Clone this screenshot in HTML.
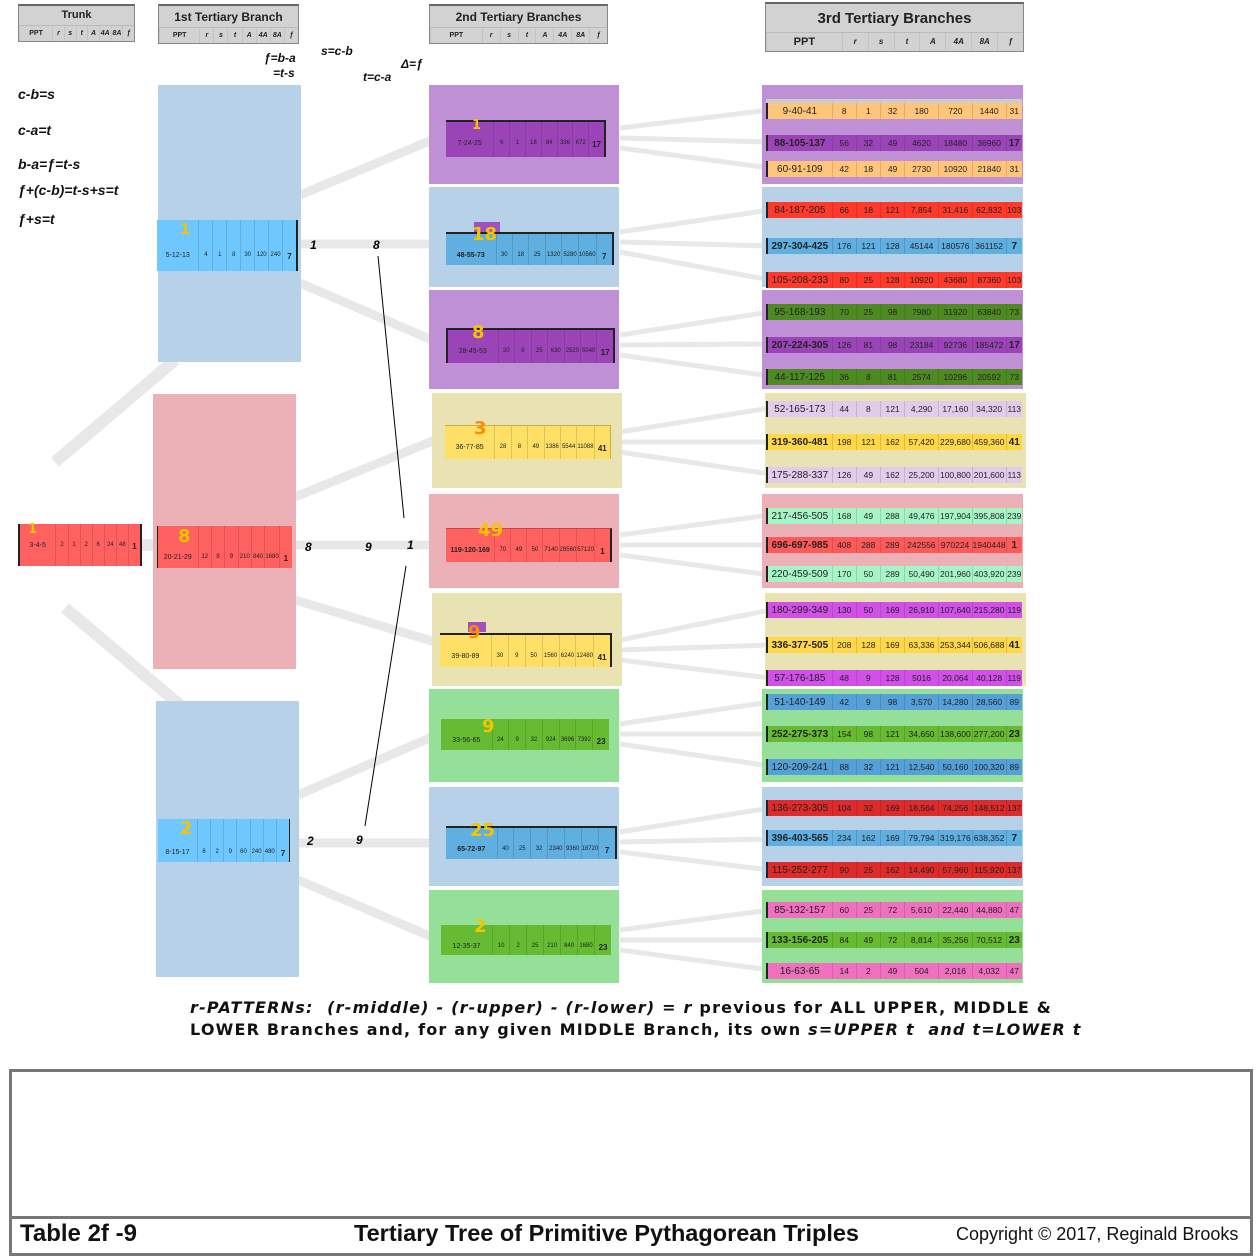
<!DOCTYPE html>
<html><head><meta charset="utf-8">
<style>
body{margin:0;width:1260px;height:1260px;background:#fff;position:relative;overflow:hidden;font-family:"Liberation Sans",sans-serif;}
.a{position:absolute;}
.hd{position:absolute;background:#d2d2d2;border:1px solid #888;border-top:2px solid #666;font-weight:bold;color:#222;}
.hd .t{text-align:center;}
.hd .s{display:flex;font-size:7px;font-style:italic;border-top:1px solid #bbb;}
.hd .s span{flex:1;text-align:center;border-left:1px solid #c4c4c4;}
.hd .s span:first-child{flex:3;font-style:normal;}
.r3{position:absolute;left:766px;width:256px;height:16px;display:flex;font-size:8.5px;line-height:17px;color:#222;}
.r3 span{text-align:center;border-left:1px solid rgba(0,0,0,.12);}
.r3 span:nth-child(1){width:66px;font-size:10px;border-left:2px solid #222}
.r3 span:nth-child(2),.r3 span:nth-child(3),.r3 span:nth-child(4){width:24px}
.r3 span:nth-child(5),.r3 span:nth-child(6),.r3 span:nth-child(7){width:34px}
.r3 span:nth-child(8){width:16px}
.b span:nth-child(1),.b span:nth-child(8){font-weight:bold}
.b span:nth-child(8){font-size:10px}
.r2{position:absolute;display:flex;font-size:6px;color:#222;border-top:2px solid #222;border-right:2px solid #222;}
.r2 span{text-align:center;border-left:1px solid rgba(0,0,0,.12);padding-top:18px;flex:1}
.r2 span:nth-child(1){flex:3.2;font-size:7px;border-left:none}
.r2 span:last-child{font-weight:bold;font-size:8px}
.p{position:absolute;}
.f{position:absolute;font-weight:bold;font-style:italic;font-size:14px;color:#111;}
.hw{position:absolute;color:#f5c400;font-weight:bold;font-size:18px;font-family:"DejaVu Sans",sans-serif;}
.lab{position:absolute;font-weight:bold;font-style:italic;font-size:12px;}
</style></head><body>

<svg class="a" style="left:0;top:0" width="1260" height="1000">
<g stroke="#e8e8e8" stroke-width="12" fill="none">
<line x1="55" y1="462" x2="175" y2="360"/>
<line x1="130" y1="545" x2="160" y2="545"/>
<line x1="65" y1="608" x2="180" y2="705"/>
</g>
<g stroke="#e8e8e8" stroke-width="9" fill="none">
<line x1="300" y1="195" x2="432" y2="140"/>
<line x1="300" y1="244" x2="432" y2="244"/>
<line x1="300" y1="283" x2="432" y2="340"/>
<line x1="295" y1="497" x2="435" y2="440"/>
<line x1="295" y1="545" x2="432" y2="545"/>
<line x1="295" y1="600" x2="435" y2="642"/>
<line x1="298" y1="795" x2="432" y2="737"/>
<line x1="298" y1="843" x2="432" y2="843"/>
<line x1="298" y1="880" x2="432" y2="937"/>
</g>
<g stroke="#e8e8e8" stroke-width="5" fill="none">
<path d="M620 128L770 110M620 138L770 142M620 148L770 168"/>
<path d="M620 232L770 210M620 242L770 246M620 252L770 280"/>
<path d="M620 335L770 312M620 345L770 344M620 355L770 376"/>
<path d="M620 432L770 408M620 442L770 442M620 452L770 474"/>
<path d="M620 535L770 515M620 545L770 545M620 555L770 575"/>
<path d="M620 640L770 610M620 650L770 645M620 660L770 678"/>
<path d="M620 724L770 702M620 734L770 734M620 744L770 766"/>
<path d="M620 832L770 808M620 842L770 839M620 852L770 870"/>
<path d="M620 930L770 910M620 940L770 940M620 950L770 970"/>
</g>
</svg>

<div class="hd" style="left:18px;top:4px;width:115px;height:35px"><div class="t" style="font-size:11px;height:19px;line-height:19px">Trunk</div><div class="s" style="height:15px;line-height:15px"><span>PPT</span><span>r</span><span>s</span><span>t</span><span>A</span><span>4A</span><span>8A</span><span>ƒ</span></div></div>
<div class="hd" style="left:158px;top:4px;width:139px;height:37px"><div class="t" style="font-size:12px;height:21px;line-height:22px">1st Tertiary Branch</div><div class="s" style="height:15px;line-height:15px"><span>PPT</span><span>r</span><span>s</span><span>t</span><span>A</span><span>4A</span><span>8A</span><span>ƒ</span></div></div>
<div class="hd" style="left:429px;top:4px;width:177px;height:37px"><div class="t" style="font-size:12px;height:21px;line-height:22px">2nd Tertiary Branches</div><div class="s" style="height:15px;line-height:15px"><span>PPT</span><span>r</span><span>s</span><span>t</span><span>A</span><span>4A</span><span>8A</span><span>ƒ</span></div></div>
<div class="hd" style="left:765px;top:2px;width:257px;height:47px"><div class="t" style="font-size:15px;height:28px;line-height:30px">3rd Tertiary Branches</div><div class="s" style="height:18px;line-height:18px;font-size:8px"><span style="font-size:11px">PPT</span><span>r</span><span>s</span><span>t</span><span>A</span><span>4A</span><span>8A</span><span>ƒ</span></div></div>

<div class="f" style="left:18px;top:86px">c-b=s</div>
<div class="f" style="left:18px;top:122px">c-a=t</div>
<div class="f" style="left:18px;top:156px">b-a=ƒ=t-s</div>
<div class="f" style="left:18px;top:182px">ƒ+(c-b)=t-s+s=t</div>
<div class="f" style="left:18px;top:211px">ƒ+s=t</div>
<div class="f" style="left:264px;top:51px;font-size:12px">ƒ=b-a</div>
<div class="f" style="left:273px;top:66px;font-size:12px">=t-s</div>
<div class="f" style="left:321px;top:44px;font-size:12px">s=c-b</div>
<div class="f" style="left:363px;top:70px;font-size:12px">t=c-a</div>
<div class="f" style="left:401px;top:57px;font-size:12px">Δ=ƒ</div>

<div class="p" style="left:158px;top:85px;width:143px;height:277px;background:#b6d1e8"></div>
<div class="p" style="left:153px;top:394px;width:143px;height:275px;background:#ecb1b7"></div>
<div class="p" style="left:156px;top:701px;width:143px;height:276px;background:#b6d1e8"></div>

<div class="r2" style="left:18px;top:524px;width:120px;height:42px;background:#ff6060;border-top:none;border-left:2px solid #222"><span>3-4-5</span><span>2</span><span>1</span><span>2</span><span>6</span><span>24</span><span>48</span><span>1</span></div>
<div class="r2" style="left:157px;top:220px;width:139px;height:51px;background:#6ec8ff;border-top:none"><span style="padding-top:32px">5-12-13</span><span style="padding-top:32px">4</span><span style="padding-top:32px">1</span><span style="padding-top:32px">8</span><span style="padding-top:32px">30</span><span style="padding-top:32px">120</span><span style="padding-top:32px">240</span><span style="padding-top:32px">7</span></div>
<div class="r2" style="left:157px;top:526px;width:134px;height:42px;background:#ff6060;border-top:none;border-right:none;border-left:1px solid #222"><span style="padding-top:28px">20-21-29</span><span style="padding-top:28px">12</span><span style="padding-top:28px">8</span><span style="padding-top:28px">9</span><span style="padding-top:28px">210</span><span style="padding-top:28px">840</span><span style="padding-top:28px">1680</span><span style="padding-top:28px">1</span></div>
<div class="r2" style="left:158px;top:819px;width:131px;height:43px;background:#6ec8ff;border-top:none;border-right:1px solid #222"><span style="padding-top:30px">8-15-17</span><span style="padding-top:30px">6</span><span style="padding-top:30px">2</span><span style="padding-top:30px">9</span><span style="padding-top:30px">60</span><span style="padding-top:30px">240</span><span style="padding-top:30px">480</span><span style="padding-top:30px">7</span></div>
<div class="hw" style="left:28px;top:522px;font-size:13px">1</div>
<div class="hw" style="left:180px;top:220px;font-size:15px">1</div>
<div class="hw" style="left:178px;top:526px">8</div>
<div class="hw" style="left:180px;top:818px">2</div>

<div class="p" style="left:429px;top:85px;width:190px;height:99px;background:#bf90d6"></div>
<div class="p" style="left:429px;top:187px;width:190px;height:100px;background:#b6d1e8"></div>
<div class="p" style="left:429px;top:290px;width:190px;height:99px;background:#bf90d6"></div>
<div class="p" style="left:432px;top:393px;width:190px;height:95px;background:#e9e3b4"></div>
<div class="p" style="left:429px;top:494px;width:190px;height:94px;background:#ecb1b7"></div>
<div class="p" style="left:432px;top:593px;width:190px;height:93px;background:#e9e3b4"></div>
<div class="p" style="left:429px;top:689px;width:190px;height:93px;background:#95e099"></div>
<div class="p" style="left:429px;top:787px;width:190px;height:99px;background:#b6d1e8"></div>
<div class="p" style="left:429px;top:890px;width:190px;height:93px;background:#95e099"></div>

<div class="r2" style="left:446px;top:120px;width:158px;height:35px;background:#9b44b8"><span>7-24-25</span><span>6</span><span>1</span><span>18</span><span>84</span><span>336</span><span>672</span><span>17</span></div>
<div class="r2" style="left:446px;top:232px;width:166px;height:31px;background:#5fafe0"><span style="font-weight:bold">48-55-73</span><span>30</span><span>18</span><span>25</span><span>1320</span><span>5280</span><span>10560</span><span>7</span></div>
<div class="r2" style="left:446px;top:328px;width:165px;height:33px;background:#9b44b8;border-left:2px solid #222"><span>28-45-53</span><span>20</span><span>8</span><span>25</span><span>630</span><span>2520</span><span>5040</span><span>17</span></div>
<div class="r2" style="left:445px;top:425px;width:165px;height:33px;background:#ffe066;border-top:1px solid #c8b040;border-right:1px solid #c8b040"><span>36-77-85</span><span>28</span><span>8</span><span>49</span><span>1386</span><span>5544</span><span>11088</span><span>41</span></div>
<div class="r2" style="left:446px;top:528px;width:164px;height:33px;background:#ff6060;border-top:1px solid #c44"><span style="font-weight:bold">119-120-169</span><span>70</span><span>49</span><span>50</span><span>7140</span><span>28560</span><span>57120</span><span>1</span></div>
<div class="r2" style="left:440px;top:633px;width:170px;height:32px;background:#ffe066"><span>39-80-89</span><span>30</span><span>9</span><span>50</span><span>1560</span><span>6240</span><span>12480</span><span>41</span></div>
<div class="r2" style="left:441px;top:719px;width:168px;height:31px;background:#66bb33;border-top:none;border-right:none"><span>33-56-65</span><span>24</span><span>9</span><span>32</span><span>924</span><span>3696</span><span>7392</span><span>23</span></div>
<div class="r2" style="left:446px;top:826px;width:169px;height:31px;background:#5fafe0"><span style="font-weight:bold">65-72-97</span><span>40</span><span>25</span><span>32</span><span>2340</span><span>9360</span><span>18720</span><span>7</span></div>
<div class="r2" style="left:441px;top:925px;width:170px;height:30px;background:#66bb33;border-top:none;border-right:none"><span>12-35-37</span><span>10</span><span>2</span><span>25</span><span>210</span><span>840</span><span>1680</span><span>23</span></div>
<div class="hw" style="left:472px;top:118px;font-size:13px">1</div>
<div class="p" style="left:474px;top:222px;width:26px;height:10px;background:#a050c0"></div>
<div class="hw" style="left:472px;top:224px">18</div>
<div class="hw" style="left:472px;top:322px">8</div>
<div class="hw" style="left:474px;top:418px;color:#ff8c00">3</div>
<div class="hw" style="left:478px;top:520px">49</div>
<div class="p" style="left:468px;top:622px;width:18px;height:10px;background:#a050c0"></div>
<div class="hw" style="left:468px;top:622px;color:#ff8c00">9</div>
<div class="hw" style="left:482px;top:716px">9</div>
<div class="hw" style="left:470px;top:820px">25</div>
<div class="hw" style="left:474px;top:916px">2</div>

<div class="p" style="left:762px;top:85px;width:261px;height:99px;background:#bf90d6"></div>
<div class="p" style="left:762px;top:187px;width:261px;height:100px;background:#b6d1e8"></div>
<div class="p" style="left:762px;top:290px;width:261px;height:99px;background:#bf90d6"></div>
<div class="p" style="left:765px;top:393px;width:261px;height:95px;background:#e9e3b4"></div>
<div class="p" style="left:762px;top:494px;width:261px;height:94px;background:#ecb1b7"></div>
<div class="p" style="left:765px;top:593px;width:261px;height:93px;background:#e9e3b4"></div>
<div class="p" style="left:762px;top:689px;width:261px;height:93px;background:#95e099"></div>
<div class="p" style="left:762px;top:787px;width:261px;height:99px;background:#b6d1e8"></div>
<div class="p" style="left:762px;top:890px;width:261px;height:93px;background:#95e099"></div>
<div class="p" style="left:766px;top:99px;width:256px;height:4px;background:#ccc"></div>

<div class="r3" style="top:103px;background:#ffc57a"><span>9-40-41</span><span>8</span><span>1</span><span>32</span><span>180</span><span>720</span><span>1440</span><span>31</span></div>
<div class="r3 b" style="top:135px;background:#9b44b8"><span>88-105-137</span><span>56</span><span>32</span><span>49</span><span>4620</span><span>18480</span><span>36960</span><span>17</span></div>
<div class="r3" style="top:161px;background:#ffc57a"><span>60-91-109</span><span>42</span><span>18</span><span>49</span><span>2730</span><span>10920</span><span>21840</span><span>31</span></div>

<div class="r3" style="top:202px;background:#ff3a2a"><span>84-187-205</span><span>66</span><span>18</span><span>121</span><span>7,854</span><span>31,416</span><span>62,832</span><span>103</span></div>
<div class="r3 b" style="top:238px;background:#5fafe0"><span>297-304-425</span><span>176</span><span>121</span><span>128</span><span>45144</span><span>180576</span><span>361152</span><span>7</span></div>
<div class="r3" style="top:272px;background:#ff3a2a"><span>105-208-233</span><span>80</span><span>25</span><span>128</span><span>10920</span><span>43680</span><span>87360</span><span>103</span></div>

<div class="r3" style="top:304px;background:#4e8a22"><span>95-168-193</span><span>70</span><span>25</span><span>98</span><span>7980</span><span>31920</span><span>63840</span><span>73</span></div>
<div class="r3 b" style="top:337px;background:#9b44b8"><span>207-224-305</span><span>126</span><span>81</span><span>98</span><span>23184</span><span>92736</span><span>185472</span><span>17</span></div>
<div class="r3" style="top:369px;background:#4e8a22"><span>44-117-125</span><span>36</span><span>8</span><span>81</span><span>2574</span><span>10296</span><span>20592</span><span>73</span></div>

<div class="r3" style="top:401px;background:#e2ccec"><span>52-165-173</span><span>44</span><span>8</span><span>121</span><span>4,290</span><span>17,160</span><span>34,320</span><span>113</span></div>
<div class="r3 b" style="top:434px;background:#ffd84a"><span>319-360-481</span><span>198</span><span>121</span><span>162</span><span>57,420</span><span>229,680</span><span>459,360</span><span>41</span></div>
<div class="r3" style="top:467px;background:#e2ccec"><span>175-288-337</span><span>126</span><span>49</span><span>162</span><span>25,200</span><span>100,800</span><span>201,600</span><span>113</span></div>

<div class="r3" style="top:508px;background:#a6f5c6"><span>217-456-505</span><span>168</span><span>49</span><span>288</span><span>49,476</span><span>197,904</span><span>395,808</span><span>239</span></div>
<div class="r3 b" style="top:537px;background:#ff5a5a"><span>696-697-985</span><span>408</span><span>288</span><span>289</span><span>242556</span><span>970224</span><span>1940448</span><span>1</span></div>
<div class="r3" style="top:566px;background:#a6f5c6"><span>220-459-509</span><span>170</span><span>50</span><span>289</span><span>50,490</span><span>201,960</span><span>403,920</span><span>239</span></div>

<div class="r3" style="top:602px;background:#d050e8"><span>180-299-349</span><span>130</span><span>50</span><span>169</span><span>26,910</span><span>107,640</span><span>215,280</span><span>119</span></div>
<div class="r3 b" style="top:637px;background:#ffd84a"><span>336-377-505</span><span>208</span><span>128</span><span>169</span><span>63,336</span><span>253,344</span><span>506,688</span><span>41</span></div>
<div class="r3" style="top:670px;background:#d050e8"><span>57-176-185</span><span>48</span><span>9</span><span>128</span><span>5016</span><span>20,064</span><span>40,128</span><span>119</span></div>

<div class="r3" style="top:694px;background:#55a0d8"><span>51-140-149</span><span>42</span><span>9</span><span>98</span><span>3,570</span><span>14,280</span><span>28,560</span><span>89</span></div>
<div class="r3 b" style="top:726px;background:#66bb33"><span>252-275-373</span><span>154</span><span>98</span><span>121</span><span>34,650</span><span>138,600</span><span>277,200</span><span>23</span></div>
<div class="r3" style="top:759px;background:#55a0d8"><span>120-209-241</span><span>88</span><span>32</span><span>121</span><span>12,540</span><span>50,160</span><span>100,320</span><span>89</span></div>

<div class="r3" style="top:800px;background:#dd2a2a"><span>136-273-305</span><span>104</span><span>32</span><span>169</span><span>18,564</span><span>74,256</span><span>148,512</span><span>137</span></div>
<div class="r3 b" style="top:830px;background:#5fafe0"><span>396-403-565</span><span>234</span><span>162</span><span>169</span><span>79,794</span><span>319,176</span><span>638,352</span><span>7</span></div>
<div class="r3" style="top:862px;background:#dd2a2a"><span>115-252-277</span><span>90</span><span>25</span><span>162</span><span>14,490</span><span>57,960</span><span>115,920</span><span>137</span></div>

<div class="r3" style="top:902px;background:#f070c0"><span>85-132-157</span><span>60</span><span>25</span><span>72</span><span>5,610</span><span>22,440</span><span>44,880</span><span>47</span></div>
<div class="r3 b" style="top:932px;background:#66bb33"><span>133-156-205</span><span>84</span><span>49</span><span>72</span><span>8,814</span><span>35,256</span><span>70,512</span><span>23</span></div>
<div class="r3" style="top:963px;background:#f070c0"><span>16-63-65</span><span>14</span><span>2</span><span>49</span><span>504</span><span>2,016</span><span>4,032</span><span>47</span></div>

<svg class="a" style="left:0;top:0" width="1260" height="1000">
<line x1="378" y1="256" x2="404" y2="518" stroke="#000" stroke-width="1"/>
<line x1="406" y1="566" x2="365" y2="826" stroke="#000" stroke-width="1"/>
</svg>
<div class="lab" style="left:310px;top:238px">1</div>
<div class="lab" style="left:373px;top:238px">8</div>
<div class="lab" style="left:305px;top:540px">8</div>
<div class="lab" style="left:365px;top:540px">9</div>
<div class="lab" style="left:407px;top:538px">1</div>
<div class="lab" style="left:307px;top:834px">2</div>
<div class="lab" style="left:356px;top:833px">9</div>

<div class="a" style="left:190px;top:997px;font-family:'DejaVu Sans',sans-serif;font-size:16px;font-weight:bold;line-height:22px;color:#111;white-space:nowrap;letter-spacing:1.2px">
<i>r-PATTERNs:&nbsp; (r-middle) - (r-upper) - (r-lower) = r</i> previous for ALL UPPER, MIDDLE &amp;<br>LOWER Branches and, for any given MIDDLE Branch, its own <i>s=UPPER t&nbsp; and t=LOWER t</i></div>

<div class="a" style="left:9px;top:1069px;width:1238px;height:181px;border:3px solid #777;"></div>
<div class="a" style="left:12px;top:1216px;width:1238px;height:3px;background:#777"></div>
<div class="a" style="left:20px;top:1220px;font-size:24px;font-weight:bold;color:#111">Table 2f -9</div>
<div class="a" style="left:354px;top:1220px;font-size:23.5px;font-weight:bold;color:#111">Tertiary Tree of Primitive Pythagorean Triples</div>
<div class="a" style="left:956px;top:1224px;font-size:18px;color:#111">Copyright © 2017, Reginald Brooks</div>
</body></html>
